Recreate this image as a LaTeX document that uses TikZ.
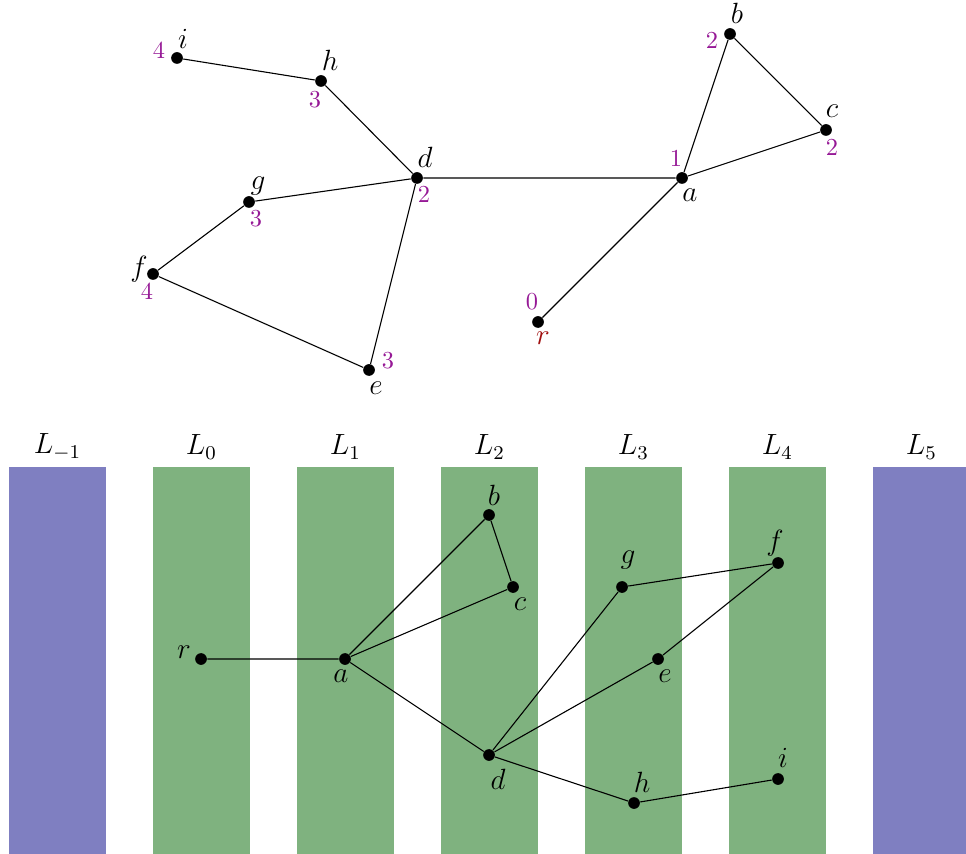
\documentclass[tikz,border=0pt]{standalone}
\definecolor{lvlgreen}{RGB}{127,178,127}
\definecolor{lvlblue}{RGB}{127,127,193}
\definecolor{numcol}{RGB}{150,25,150}
\definecolor{rootcol}{RGB}{160,15,15}
\tikzset{
  dot/.style={circle,fill=black,inner sep=0pt,minimum size=4.8pt},
  lbl/.style={inner sep=0pt,font=\large},
  num/.style={inner sep=0pt,text=numcol},
  edge/.style={draw=black,line width=0.45pt},
  greenband/.style={fill=lvlgreen,draw=none},
  blueband/.style={fill=lvlblue,draw=none}
}
\begin{document}
\begin{tikzpicture}[x=0.41pt,y=-0.41pt]
\useasboundingbox (0,0) rectangle (966,854);
% ---------- top graph ----------
\node[dot] (ti) at (177,58) {};
\node[dot] (th) at (321,81) {};
\node[dot] (td) at (417,178) {};
\node[dot] (tg) at (249,202) {};
\node[dot] (tf) at (153,274) {};
\node[dot] (te) at (369,370) {};
\node[dot] (ta) at (682,178) {};
\node[dot] (tb) at (730,34) {};
\node[dot] (tc) at (826,130) {};
\node[dot] (tr) at (538,322) {};
\draw[edge] (ti) -- (th) -- (td) -- (tg) -- (tf) -- (te) -- (td) -- (ta) -- (tb) -- (tc) -- (ta) -- (tr);
\node[lbl] (til) at ([shift={(6,-19)}]ti) {$i$};
\node[num] (tin) at ([shift={(-18,-8)}]ti) {4};
\node[lbl] (thl) at ([shift={(9,-21)}]th) {$h$};
\node[num] (thn) at ([shift={(-6,19)}]th) {3};
\node[lbl] (tdl) at ([shift={(8,-21)}]td) {$d$};
\node[num] (tdn) at ([shift={(7,16)}]td) {2};
\node[lbl] (tgl) at ([shift={(9,-16)}]tg) {$g$};
\node[num] (tgn) at ([shift={(7,17)}]tg) {3};
\node[lbl] (tfl) at ([shift={(-14,-5)}]tf) {$f$};
\node[num] (tfn) at ([shift={(-6,17)}]tf) {4};
\node[lbl] (tel) at ([shift={(7,18)}]te) {$e$};
\node[num] (ten) at ([shift={(19,-9)}]te) {3};
\node[lbl] (tal) at ([shift={(8,17)}]ta) {$a$};
\node[num] (tan) at ([shift={(-6,-20)}]ta) {1};
\node[lbl] (tbl) at ([shift={(7,-21)}]tb) {$b$};
\node[num] (tbn) at ([shift={(-18,6)}]tb) {2};
\node[lbl] (tcl) at ([shift={(6,-19)}]tc) {$c$};
\node[num] (tcn) at ([shift={(6,17)}]tc) {2};
\node[lbl,text=rootcol] (trl) at ([shift={(5,16)}]tr) {$r$};
\node[num] (trn) at ([shift={(-6,-20)}]tr) {0};
% ---------- level bands ----------
\foreach \k/\s/\st in {0/{-1}/blueband,1/0/greenband,2/1/greenband,3/2/greenband,4/3/greenband,5/4/greenband,6/5/blueband}{
  \fill[\st] ({9+144*\k},467) rectangle ({106+144*\k},854);
  \node[lbl] (L\k) at ({57.5+144*\k},447) {$L_{\s}$};
}
% ---------- bottom graph ----------
\node[dot] (br) at (201,659) {};
\node[dot] (ba) at (345,659) {};
\node[dot] (bb) at (489,515) {};
\node[dot] (bc) at (513,587) {};
\node[dot] (bd) at (489,755) {};
\node[dot] (bg) at (622,587) {};
\node[dot] (be) at (658,659) {};
\node[dot] (bh) at (634,803) {};
\node[dot] (bf) at (778,563) {};
\node[dot] (bi) at (778,779) {};
\draw[edge] (br) -- (ba) -- (bb) -- (bc) -- (ba) -- (bd) -- (bg) -- (bf) -- (be) -- (bd) -- (bh) -- (bi);
\node[lbl] (brl) at ([shift={(-17,-7)}]br) {$r$};
\node[lbl] (bal) at ([shift={(-4,17)}]ba) {$a$};
\node[lbl] (bbl) at ([shift={(5,-20)}]bb) {$b$};
\node[lbl] (bcl) at ([shift={(7,17)}]bc) {$c$};
\node[lbl] (bdl) at ([shift={(9,24)}]bd) {$d$};
\node[lbl] (bgl) at ([shift={(6,-27)}]bg) {$g$};
\node[lbl] (bel) at ([shift={(7,17)}]be) {$e$};
\node[lbl] (bhl) at ([shift={(8,-21)}]bh) {$h$};
\node[lbl] (bfl) at ([shift={(-3,-20)}]bf) {$f$};
\node[lbl] (bil) at ([shift={(5,-21)}]bi) {$i$};
\end{tikzpicture}
\end{document}
